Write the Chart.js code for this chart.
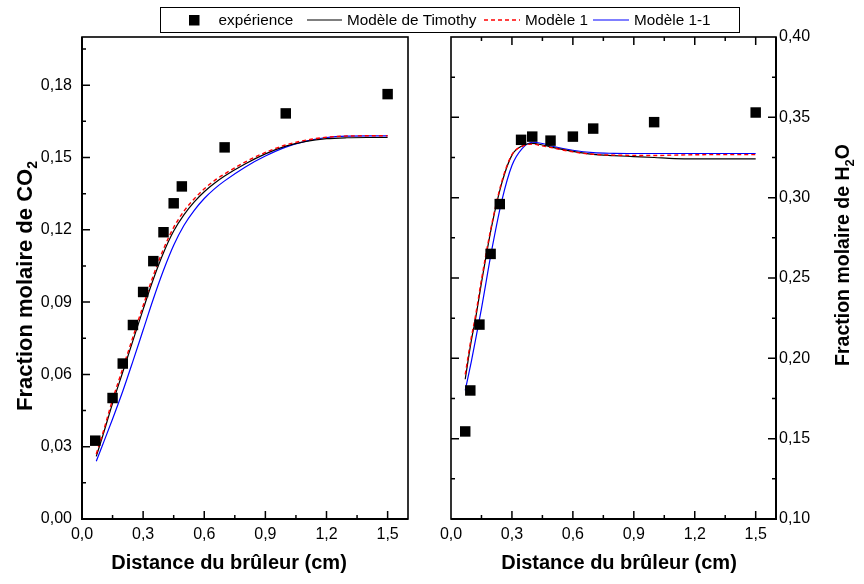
<!DOCTYPE html>
<html><head><meta charset="utf-8">
<script src="https://cdn.jsdelivr.net/npm/chart.js@4/dist/chart.umd.min.js"></script>
<style>
html,body{margin:0;padding:0;background:#fff;width:864px;height:584px;overflow:hidden}
#wrap{position:relative;width:864px;height:584px}
canvas{position:absolute;left:0;top:0}
</style></head>
<body><div id="wrap"><canvas id="c1" width="864" height="584"></canvas><canvas id="c2" width="864" height="584"></canvas></div>
<script>
// ---------- data ----------
const seriesNames = ['expérience', 'Modèle de Timothy', 'Modèle 1', 'Modèle 1-1'];
const xTitle = 'Distance du brûleur (cm)';
const yTitleCO2 = ['Fraction molaire de CO', '2', ''];
const yTitleH2O = ['Fraction molaire de H', '2', 'O'];

const xTicks = [0, 0.3, 0.6, 0.9, 1.2, 1.5];
const co2Ticks = [0, 0.03, 0.06, 0.09, 0.12, 0.15, 0.18];
const h2oTicks = [0.10, 0.15, 0.20, 0.25, 0.30, 0.35, 0.40];

// CO2 panel
const co2ExpX = [0.065, 0.15, 0.20, 0.25, 0.30, 0.35, 0.40, 0.45, 0.49, 0.70, 1.00, 1.50];
const co2ExpY = [0.0325, 0.0502, 0.0645, 0.0805, 0.0942, 0.107, 0.119, 0.131, 0.138, 0.1542, 0.1683, 0.1763];
const co2ModelX = [0.07, 0.10, 0.15, 0.20, 0.25, 0.30, 0.35, 0.40, 0.45, 0.50, 0.55, 0.60, 0.65, 0.70, 0.80, 0.90, 1.00, 1.10, 1.20, 1.30, 1.40, 1.50];
const co2Timothy = [0.026, 0.034, 0.048, 0.061, 0.074, 0.087, 0.0995, 0.1105, 0.1195, 0.1262, 0.1315, 0.1358, 0.1393, 0.1423, 0.1473, 0.1515, 0.1547, 0.1567, 0.1578, 0.1582, 0.1583, 0.1583];
const co2Modele1 = [0.027, 0.035, 0.0495, 0.0625, 0.0755, 0.0885, 0.101, 0.112, 0.121, 0.1277, 0.1328, 0.137, 0.1404, 0.1432, 0.1481, 0.1521, 0.1552, 0.1572, 0.1584, 0.1589, 0.159, 0.159];
const co2Modele11 = [0.024, 0.0305, 0.0415, 0.053, 0.0655, 0.0784, 0.0913, 0.1032, 0.1136, 0.1218, 0.128, 0.133, 0.137, 0.1403, 0.146, 0.1506, 0.1543, 0.1568, 0.1583, 0.1589, 0.159, 0.159];

// H2O panel
const h2oExpX = [0.07, 0.095, 0.14, 0.195, 0.24, 0.345, 0.40, 0.49, 0.60, 0.70, 1.00, 1.50];
const h2oExpY = [0.1545, 0.180, 0.221, 0.265, 0.296, 0.336, 0.338, 0.3355, 0.338, 0.343, 0.347, 0.353];
const h2oModelX = [0.07, 0.10, 0.12, 0.15, 0.20, 0.25, 0.30, 0.35, 0.40, 0.45, 0.50, 0.60, 0.70, 0.80, 0.90, 1.00, 1.10, 1.20, 1.30, 1.40, 1.50];
const h2oTimothy = [0.187, 0.211, 0.224, 0.247, 0.282, 0.309, 0.3265, 0.3322, 0.3338, 0.3328, 0.3313, 0.3288, 0.327, 0.3262, 0.3256, 0.325, 0.3243, 0.3241, 0.3241, 0.3241, 0.3241];
const h2oModele1 = [0.190, 0.213, 0.226, 0.249, 0.283, 0.310, 0.3268, 0.332, 0.3333, 0.3322, 0.331, 0.3285, 0.327, 0.3265, 0.3263, 0.3262, 0.3265, 0.3267, 0.3268, 0.3268, 0.3268];
const h2oModele11 = [0.180, 0.198, 0.211, 0.231, 0.267, 0.298, 0.320, 0.3305, 0.3345, 0.3337, 0.332, 0.3295, 0.328, 0.3276, 0.3275, 0.3275, 0.3275, 0.3275, 0.3275, 0.3275, 0.3275];

// ---------- helpers ----------
const FONT = "'Liberation Sans', Arial, sans-serif";
const pts = (xs, ys) => xs.map((x, i) => ({x: x, y: ys[i]}));
const fmt = (v, d) => Number(v).toFixed(d).replace('.', ',');

function datasets(expX, expY, mx, t, m1, m11) {
  return [
    {label: seriesNames[0], data: pts(expX, expY), showLine: false, pointStyle: 'rect',
     pointRadius: 7.4, pointHoverRadius: 7.4, backgroundColor: '#000', borderColor: '#000', borderWidth: 0, order: 0},
    {label: seriesNames[1], data: pts(mx, t), borderColor: '#000', borderWidth: 1.2, pointRadius: 0,
     cubicInterpolationMode: 'monotone', fill: false, order: 2},
    {label: seriesNames[2], data: pts(mx, m1), borderColor: '#ff0000', borderWidth: 1.4, borderDash: [4, 3],
     pointRadius: 0, cubicInterpolationMode: 'monotone', fill: false, order: 1},
    {label: seriesNames[3], data: pts(mx, m11), borderColor: '#0000ff', borderWidth: 1.2, pointRadius: 0,
     cubicInterpolationMode: 'monotone', fill: false, order: 3}
  ];
}

function drawTitle(ctx, parts, x, y, rot, size) {
  ctx.save();
  ctx.translate(x, y);
  if (rot) ctx.rotate(rot);
  const big = "bold " + size + "px " + FONT, small = "bold " + Math.round(size * 0.65) + "px " + FONT;
  ctx.font = big; const w0 = ctx.measureText(parts[0]).width; const w2 = ctx.measureText(parts[2]).width;
  ctx.font = small; const w1 = ctx.measureText(parts[1]).width;
  let cx = -(w0 + w1 + w2) / 2;
  ctx.fillStyle = '#000'; ctx.textBaseline = 'alphabetic'; ctx.textAlign = 'left';
  ctx.font = big; ctx.fillText(parts[0], cx, 0); cx += w0;
  ctx.font = small; ctx.fillText(parts[1], cx, size * 0.25); cx += w1;
  ctx.font = big; ctx.fillText(parts[2], cx, 0);
  ctx.restore();
}

function makeFrame(side) {
  return {
    id: 'frame' + side,
    afterDatasetsDraw(chart) {
      const {ctx, chartArea: a, scales} = chart;
      const xs = scales.x, ys = scales.y;
      ctx.save();
      ctx.strokeStyle = '#000';
      ctx.lineWidth = 1.6;
      ctx.strokeRect(a.left, a.top, a.right - a.left, a.bottom - a.top);
      ctx.lineWidth = 2;
      ctx.beginPath();
      if (side === 'L') { ctx.moveTo(a.left, a.top); ctx.lineTo(a.left, a.bottom); ctx.lineTo(a.right, a.bottom); }
      else { ctx.moveTo(a.left, a.bottom); ctx.lineTo(a.right, a.bottom); ctx.lineTo(a.right, a.top); }
      ctx.stroke();
      ctx.lineWidth = 1.5;
      const xStep = xTicks[1] - xTicks[0];
      const yT = side === 'L' ? co2Ticks : h2oTicks;
      const yStep = yT[1] - yT[0];
      const xMaj = [], xMin = [], yMaj = [], yMin = [];
      xTicks.forEach(v => { xMaj.push(v); xMin.push(v + xStep / 2); });
      yT.forEach(v => { yMaj.push(v); yMin.push(v + yStep / 2); });
      ctx.beginPath();
      const tick = (vals, len) => {
        vals.forEach(v => {
          const px = xs.getPixelForValue(v);
          if (px <= a.left + 0.5 || px >= a.right - 0.5) return;
          ctx.moveTo(px, a.bottom); ctx.lineTo(px, a.bottom - len);
          if (side === 'R') { ctx.moveTo(px, a.top); ctx.lineTo(px, a.top + len); }
        });
      };
      const ytick = (vals, len) => {
        vals.forEach(v => {
          const py = ys.getPixelForValue(v);
          if (py <= a.top + 0.5 || py >= a.bottom - 0.5) return;
          if (side === 'L') { ctx.moveTo(a.left, py); ctx.lineTo(a.left + len, py); }
          else { ctx.moveTo(a.right, py); ctx.lineTo(a.right - len, py); ctx.moveTo(a.left, py); ctx.lineTo(a.left + len, py); }
        });
      };
      tick(xMaj, 8); tick(xMin, 4); ytick(yMaj, 8); ytick(yMin, 4);
      ctx.stroke();
      ctx.restore();
      // axis titles
      if (side === 'L') {
        drawTitle(ctx, [xTitle, '', ''], 229, 569, 0, 20);
        drawTitle(ctx, yTitleCO2, 31.5, 286, -Math.PI / 2, 22);
      } else {
        drawTitle(ctx, [xTitle, '', ''], 619, 569, 0, 20);
        drawTitle(ctx, yTitleH2O, 849, 255, -Math.PI / 2, 19.5);
      }
    }
  };
}

const legendPlugin = {
  id: 'boxLegend',
  afterDraw(chart) {
    const ctx = chart.ctx;
    const ds = chart.data.datasets;
    ctx.save();
    ctx.strokeStyle = '#000'; ctx.lineWidth = 1;
    ctx.strokeRect(160.5, 7.5, 579, 25);
    const cy = 20;
    ctx.font = "15.3px " + FONT; ctx.fillStyle = '#000'; ctx.textBaseline = 'middle'; ctx.textAlign = 'left';
    ctx.fillStyle = ds[0].backgroundColor; ctx.fillRect(189, cy - 5, 10.5, 10.5);
    ctx.fillStyle = '#000'; ctx.fillText(ds[0].label, 218.5, cy + 1);
    const sample = (d, x0, x1, tx) => {
      ctx.beginPath(); ctx.strokeStyle = d.borderColor; ctx.lineWidth = d.borderWidth;
      ctx.setLineDash(d.borderDash || []); ctx.moveTo(x0, cy); ctx.lineTo(x1, cy); ctx.stroke(); ctx.setLineDash([]);
      ctx.fillStyle = '#000'; ctx.fillText(d.label, tx, cy + 1);
    };
    sample(ds[1], 307, 342, 347);
    sample(ds[2], 484, 520, 525);
    sample(ds[3], 593, 629, 634);
    ctx.restore();
  }
};

function scalesFor(yMin, yMax, yT, yDec, yPos, yWidth, yPad) {
  return {
    x: {type: 'linear', min: 0, max: 1.6,
        afterBuildTicks: s => { s.ticks = xTicks.map(v => ({value: v})); },
        afterFit: s => { s.height = 65; },
        ticks: {callback: v => fmt(v, 1), font: {family: FONT, size: 16}, color: '#000', padding: 6, maxRotation: 0, autoSkip: false},
        grid: {display: false, drawTicks: false}, border: {display: false}},
    y: {type: 'linear', min: yMin, max: yMax, position: yPos,
        afterBuildTicks: s => { s.ticks = yT.map(v => ({value: v})); },
        afterFit: s => { s.width = yWidth; },
        ticks: {callback: v => fmt(v, yDec), font: {family: FONT, size: 16}, color: '#000', padding: yPad, autoSkip: false},
        grid: {display: false, drawTicks: false}, border: {display: false}}
  };
}

const common = {
  responsive: false, animation: false, devicePixelRatio: 1,
  plugins: {legend: {display: false}, tooltip: {enabled: false}, title: {display: false}},
  events: []
};

new Chart(document.getElementById('c1'), {
  type: 'line',
  data: {datasets: datasets(co2ExpX, co2ExpY, co2ModelX, co2Timothy, co2Modele1, co2Modele11)},
  options: Object.assign({}, common, {
    layout: {padding: {left: 0, top: 37, right: 864 - 408, bottom: 0}},
    scales: scalesFor(0, 0.2, co2Ticks, 2, 'left', 82, 10)
  }),
  plugins: [makeFrame('L'), legendPlugin]
});

new Chart(document.getElementById('c2'), {
  type: 'line',
  data: {datasets: datasets(h2oExpX, h2oExpY, h2oModelX, h2oTimothy, h2oModele1, h2oModele11)},
  options: Object.assign({}, common, {
    layout: {padding: {left: 451, top: 37, right: 0, bottom: 0}},
    scales: scalesFor(0.1, 0.4, h2oTicks, 2, 'right', 864 - 776, 3)
  }),
  plugins: [makeFrame('R')]
});
</script>
</body></html>
